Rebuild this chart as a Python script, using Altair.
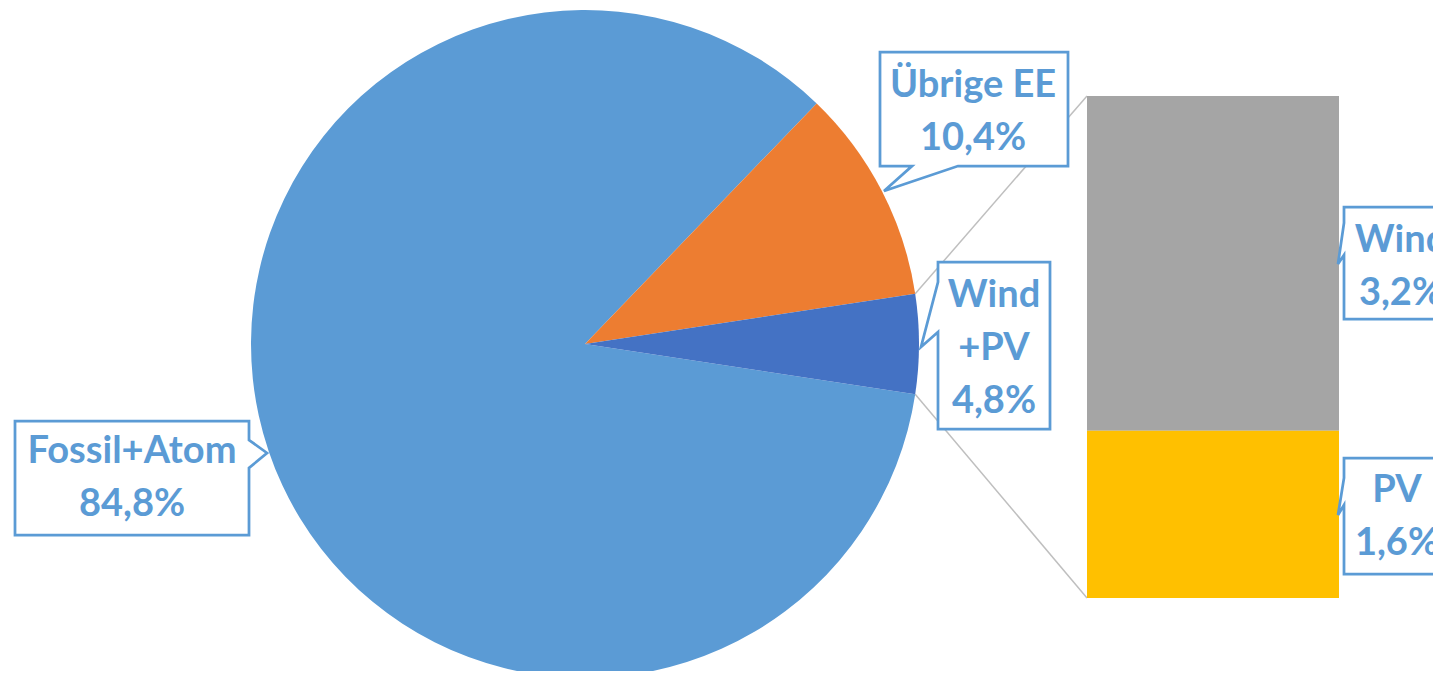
import math
import altair as alt
import pandas as pd

# ---------------- data ----------------
pie_labels = ["Fossil+Atom", "Übrige EE", "Wind+PV"]
pie_values = [84.8, 10.4, 4.8]
pie_order = [2, 0, 1]
pie_display = ["Fossil+Atom", "Übrige EE", "Wind\n+PV"]

bar_labels = ["Wind", "PV"]
bar_values = [3.2, 1.6]
bar_order = [1, 0]
bar_display = ["Wind", "PV"]

colors = ["#5B9BD5", "#ED7D31", "#4472C4", "#A5A5A5", "#FFC000"]
BLUE = "#5B9BD5"
FONT = "Lato"

def pct(v):
    return f"{v:.1f}".replace(".", ",") + "%"

# ---------------- layout (plot pixels) ----------------
W, H = 1425, 663
CX, CY, R = 577, 336, 334
BAR_X0, BAR_X1, BAR_TOP, BAR_BOT = 1079, 1331, 88, 590

total = sum(pie_values)
wpv = pie_values[2]
ubr = pie_values[1]
start = math.pi / 2 - 2 * math.pi * (wpv / 2 + ubr) / total
th1 = start + 2 * math.pi * ubr / total
th2 = th1 + 2 * math.pi * wpv / total

color_scale = alt.Scale(domain=pie_labels + bar_labels, range=colors)

pie_df = pd.DataFrame({"cat": pie_labels, "value": pie_values, "ord": pie_order})
bar_df = pd.DataFrame({"cat": bar_labels, "value": bar_values, "ord": bar_order})

# connector lines between pie slice edges and bar corners
conn_df = pd.DataFrame({
    "x": [CX + R * math.sin(th1), CX + R * math.sin(th2)],
    "y": [CY - R * math.cos(th1), CY - R * math.cos(th2)],
    "x2": [BAR_X0, BAR_X0],
    "y2": [BAR_TOP, BAR_BOT],
})

connectors = alt.Chart(conn_df).mark_rule(color="#BFBFBF", strokeWidth=1.5).encode(
    x=alt.X("x:Q", scale=None), y=alt.Y("y:Q", scale=None),
    x2="x2:Q", y2="y2:Q",
)

pie = alt.Chart(pie_df).mark_arc(outerRadius=R).encode(
    theta=alt.Theta("value:Q", stack=True,
                    scale=alt.Scale(range=[start, start + 2 * math.pi])),
    color=alt.Color("cat:N", scale=color_scale, legend=None),
    order=alt.Order("ord:Q"),
    x=alt.value(CX), y=alt.value(CY),
)

bar = alt.Chart(bar_df).transform_stack(
    stack="value", as_=["v0", "v1"], groupby=[],
    sort=[alt.SortField("ord", order="ascending")],
).mark_rect().encode(
    y=alt.Y("v0:Q", axis=None,
            scale=alt.Scale(domain=[0, sum(bar_values)], range=[BAR_BOT, BAR_TOP],
                            nice=False, zero=True)),
    y2="v1:Q",
    color=alt.Color("cat:N", scale=color_scale, legend=None),
    x=alt.value(BAR_X0), x2=alt.value(BAR_X1),
)

# ---------------- callouts ----------------
# box: (name, x0, y0, x1, y1, side, base_a, base_b, tip_x, tip_y)
boxes = [
    ("ueb", 872, 44, 1060, 158, "bottom", 950, 904, 876, 183),
    ("wpv", 930, 254, 1042, 421, "left", 324, 274, 913, 339),
    ("fos", 7, 413, 241, 527, "right", 432, 460, 259, 445),
    ("wind", 1336, 199, 1448, 311, "left", 247, 215, 1330, 256),
    ("pv", 1336, 450, 1448, 566, "left", 497, 470, 1330, 507),
]

rows = []
rect_rows = []
for name, x0, y0, x1, y1, side, a, b, tx, ty in boxes:
    if side == "bottom":
        pts = [(x0, y0), (x1, y0), (x1, y1), (a, y1), (tx, ty), (b, y1), (x0, y1), (x0, y0)]
    elif side == "left":
        pts = [(x0, y0), (x1, y0), (x1, y1), (x0, y1), (x0, a), (tx, ty), (x0, b), (x0, y0)]
    else:  # right
        pts = [(x0, y0), (x1, y0), (x1, a), (tx, ty), (x1, b), (x1, y1), (x0, y1), (x0, y0)]
    for i, (px, py) in enumerate(pts):
        rows.append({"box": name, "i": i, "px": px, "py": py})
    rect_rows.append({"box": name, "x0": x0, "x1": x1, "y0": y0, "y1": y1})

outline_df = pd.DataFrame(rows)
rect_df = pd.DataFrame(rect_rows)

box_fill = alt.Chart(rect_df).mark_rect(fill="white").encode(
    x=alt.X("x0:Q", scale=None), x2="x1:Q",
    y=alt.Y("y0:Q", scale=None), y2="y1:Q",
)

box_line = alt.Chart(outline_df).mark_line(
    color=BLUE, strokeWidth=2.75, strokeJoin="miter", strokeCap="square"
).encode(
    x=alt.X("px:Q", scale=None), y=alt.Y("py:Q", scale=None),
    detail="box:N", order="i:Q",
)

label_df = pd.DataFrame({
    "text": [d + "\n" + pct(v) for d, v in zip(pie_display, pie_values)]
            + [d + "\n" + pct(v) for d, v in zip(bar_display, bar_values)],
    "tx": [124, 965, 986, 1393, 1389],
    "ty": [455, 89, 299, 244, 494],
})

labels = alt.Chart(label_df).mark_text(
    font=FONT, fontSize=38, fontWeight="bold", color=BLUE,
    align="center", baseline="alphabetic", lineBreak="\n", lineHeight=53,
).encode(
    x=alt.X("tx:Q", scale=None), y=alt.Y("ty:Q", scale=None), text="text:N",
)

chart = alt.layer(connectors, pie, bar, box_fill, box_line, labels).resolve_scale(
    x="independent", y="independent"
).properties(
    width=W, height=H, padding=0, autosize=alt.AutoSizeParams(type="none"),
).configure_view(stroke=None)

chart.save("out.html", embed_options={"renderer": "svg", "actions": False})
